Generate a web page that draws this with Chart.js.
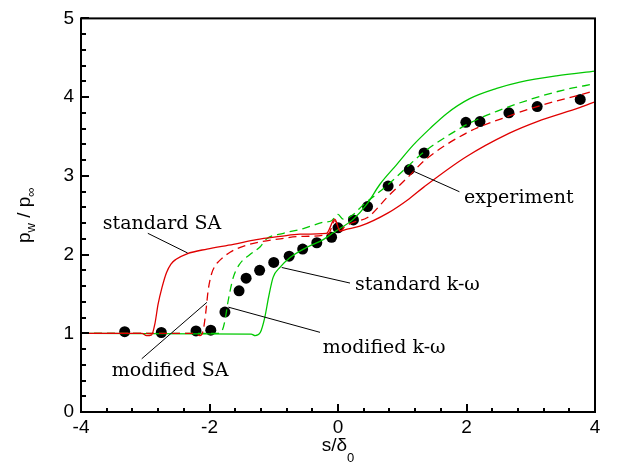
<!DOCTYPE html>
<html><head><meta charset="utf-8">
<script src="https://cdn.jsdelivr.net/npm/chart.js@4/dist/chart.umd.min.js"></script>
<style>html,body{margin:0;padding:0;background:#fff;}</style>
</head><body>
<canvas id="c" width="624" height="464"></canvas>
<script>
// ---- data ----
const expX = [-3.32,-2.75,-2.21,-1.98,-1.76,-1.54,-1.43,-1.22,-1.00,-0.76,-0.55,-0.33,-0.10,0.00,0.24,0.46,0.78,1.11,1.34,1.99,2.21,2.66,3.10,3.77];
const expY = [1.02,1.01,1.03,1.04,1.27,1.54,1.70,1.80,1.90,1.98,2.07,2.15,2.22,2.34,2.44,2.61,2.87,3.08,3.29,3.68,3.69,3.80,3.88,3.97];

const stdSAX = [-4,-3.05,-2.98,-2.90,-2.85,-2.80,-2.74,-2.67,-2.60,-2.52,-2.35,-2.04,-1.63,-1.27,-0.90,-0.59,-0.18,-0.05,0.03,0.13,0.34,0.78,1.11,1.34,1.99,2.66,3.10,3.77,4.0];
const stdSAY = [1.0,1.0,0.97,0.98,1.12,1.37,1.58,1.77,1.88,1.94,2.01,2.07,2.13,2.19,2.23,2.26,2.27,2.45,2.30,2.32,2.36,2.53,2.71,2.86,3.24,3.54,3.69,3.87,3.94];

const modSAX = [-4,-2.23,-2.15,-2.10,-2.06,-2.02,-1.97,-1.91,-1.86,-1.68,-1.42,-1.21,-0.90,-0.59,-0.15,-0.05,0.04,0.10,0.24,0.46,0.78,1.11,1.34,1.99,2.66,3.10,3.77,4.0];
const modSAY = [1.0,1.0,0.97,1.03,1.25,1.55,1.75,1.86,1.91,2.03,2.12,2.16,2.20,2.23,2.26,2.43,2.30,2.35,2.41,2.47,2.74,3.00,3.19,3.54,3.76,3.88,4.03,4.08];

const stdKWX = [-4,-1.35,-1.29,-1.21,-1.14,-1.08,-1.01,-0.90,-0.75,-0.49,-0.23,-0.07,0.24,0.45,0.65,0.91,1.17,1.43,1.69,2.05,2.47,2.83,3.40,4.0];
const stdKWY = [1.0,0.99,0.97,1.01,1.20,1.46,1.71,1.84,1.96,2.09,2.19,2.28,2.45,2.64,2.89,3.14,3.39,3.60,3.79,3.98,4.11,4.19,4.27,4.33];

const modKWX = [-4,-1.86,-1.80,-1.76,-1.71,-1.63,-1.53,-1.37,-1.21,-1.11,-0.85,-0.54,-0.23,-0.10,0.0,0.08,0.24,0.39,0.65,0.78,1.35,1.69,2.05,2.47,2.99,3.51,4.0];
const modKWY = [1.0,1.0,1.04,1.16,1.41,1.71,1.88,2.00,2.10,2.20,2.27,2.33,2.41,2.43,2.51,2.45,2.51,2.63,2.80,2.89,3.31,3.50,3.67,3.82,3.97,4.09,4.17];

const xTickValues = [-4,-2,0,2,4];
const xTickLabels = ['-4','-2','0','2','4'];
const yTickValues = [0,1,2,3,4,5];
const yTickLabels = ['0','1','2','3','4','5'];

const labelTexts = ['standard SA','modified SA','experiment','standard k-\u03c9','modified k-\u03c9'];

// ---- layout / style (not data) ----
const RED = '#e00000', GREEN = '#00c800';
const annot = [ // text anchor & pointer line, in data coordinates
  {tx:-3.66, ty:2.325, lx1:-2.96, ly1:2.27, lx2:-2.34, ly2:2.02},
  {tx:-3.52, ty:0.452, lx1:-3.055, ly1:0.676, lx2:-2.04, ly2:1.393},
  {tx:1.961, ty:2.654, lx1:1.172, ly1:3.06, lx2:1.89, ly2:2.798},
  {tx:0.265, ty:1.553, lx1:-0.876, ly1:1.836, lx2:0.187, ly2:1.638},
  {tx:-0.238, ty:0.752, lx1:-1.707, ly1:1.332, lx2:-0.28, ly2:1.012}
];

const pts = (xs, ys) => xs.map((x, i) => ({x: x, y: ys[i]}));

const framePlugin = {
  id: 'frame',
  afterDatasetsDraw(chart) {
    const ctx = chart.ctx, a = chart.chartArea;
    const xs = chart.scales.x, ys = chart.scales.y;
    ctx.save();
    // annotations
    ctx.strokeStyle = '#000'; ctx.lineWidth = 1;
    ctx.fillStyle = '#000';
    ctx.font = '19px "DejaVu Serif"';
    ctx.textAlign = 'left'; ctx.textBaseline = 'alphabetic';
    annot.forEach((n, i) => {
      ctx.beginPath();
      ctx.moveTo(xs.getPixelForValue(n.lx1), ys.getPixelForValue(n.ly1));
      ctx.lineTo(xs.getPixelForValue(n.lx2), ys.getPixelForValue(n.ly2));
      ctx.stroke();
      ctx.fillText(labelTexts[i], xs.getPixelForValue(n.tx), ys.getPixelForValue(n.ty));
    });
    // frame
    ctx.lineWidth = 2;
    ctx.strokeRect(a.left, a.top, a.right - a.left, a.bottom - a.top);
    // ticks (inward)
    ctx.lineWidth = 2;
    ctx.beginPath();
    for (let k = 0; k <= 20; k++) {
      const v = -4 + k * 0.4;
      const px = Math.round(xs.getPixelForValue(v));
      const len = (k % 5 === 0) ? 8 : 4;
      ctx.moveTo(px, a.bottom); ctx.lineTo(px, a.bottom - len);
    }
    for (let k = 0; k <= 25; k++) {
      const v = k * 0.2;
      const py = Math.round(ys.getPixelForValue(v));
      const len = (k % 5 === 0) ? 8 : 5;
      ctx.moveTo(a.left, py); ctx.lineTo(a.left + len, py);
    }
    ctx.stroke();
    // x title  s/δ0
    ctx.textBaseline = 'alphabetic';
    const mainF = '19px "Liberation Sans"', subF = '13px "Liberation Sans"';
    ctx.font = mainF; const w1 = ctx.measureText('s/\u03b4').width;
    ctx.font = subF; const w2 = ctx.measureText('0').width;
    const cx = (a.left + a.right) / 2;
    let x0 = cx - (w1 + w2) / 2;
    ctx.font = mainF; ctx.fillText('s/\u03b4', x0, 451);
    ctx.font = subF; ctx.fillText('0', x0 + w1, 462);
    // y title  p_w / p_∞ (rotated)
    ctx.save();
    ctx.translate(30, (a.top + a.bottom) / 2);
    ctx.rotate(-Math.PI / 2);
    const parts = [['p', mainF, 0], ['w', subF, 5], [' / ', mainF, 0], ['p', mainF, 0], ['\u221e', subF, 5]];
    let tw = 0;
    parts.forEach(p => { ctx.font = p[1]; tw += ctx.measureText(p[0]).width; });
    let px0 = -tw / 2;
    parts.forEach(p => { ctx.font = p[1]; ctx.fillText(p[0], px0, p[2]); px0 += ctx.measureText(p[0]).width; });
    ctx.restore();
    ctx.restore();
  }
};

const lineDs = (label, xs, ys, color, dash) => ({
  label: label, data: pts(xs, ys), showLine: true, borderColor: color, backgroundColor: color,
  borderWidth: 1.3, borderDash: dash, pointRadius: 0, cubicInterpolationMode: 'monotone', order: 1
});

new Chart(document.getElementById('c'), {
  type: 'scatter',
  data: {
    datasets: [
      lineDs(labelTexts[0], stdSAX, stdSAY, RED, []),
      lineDs(labelTexts[1], modSAX, modSAY, RED, [8, 5]),
      lineDs(labelTexts[3], stdKWX, stdKWY, GREEN, []),
      lineDs(labelTexts[4], modKWX, modKWY, GREEN, [8, 5]),
      {label: labelTexts[2], data: pts(expX, expY), showLine: false, pointRadius: 5.5, pointStyle: 'circle',
       backgroundColor: '#000', borderColor: '#000', borderWidth: 0, order: 5}
    ]
  },
  options: {
    responsive: false, animation: false, devicePixelRatio: 1,
    layout: {padding: {left: 0, top: 17, right: 29, bottom: 0}},
    plugins: {legend: {display: false}, tooltip: {enabled: false}},
    scales: {
      x: {
        type: 'linear', min: -4, max: 4,
        afterFit(s) { s.height = 52; },
        afterBuildTicks(s) { s.ticks = xTickValues.map(v => ({value: v})); },
        grid: {display: false, drawTicks: false}, border: {display: false},
        ticks: {padding: 4, color: '#000', autoSkip: false, maxRotation: 0,
          font: {family: 'Liberation Sans', size: 19},
          callback: (v) => xTickLabels[xTickValues.indexOf(v)]}
      },
      y: {
        type: 'linear', min: 0, max: 5,
        afterFit(s) { s.width = 81; },
        afterBuildTicks(s) { s.ticks = yTickValues.map(v => ({value: v})); },
        grid: {display: false, drawTicks: false}, border: {display: false},
        ticks: {padding: 7, color: '#000', autoSkip: false,
          font: {family: 'Liberation Sans', size: 19},
          callback: (v) => yTickLabels[yTickValues.indexOf(v)]}
      }
    }
  },
  plugins: [framePlugin]
});
</script>
</body></html>
